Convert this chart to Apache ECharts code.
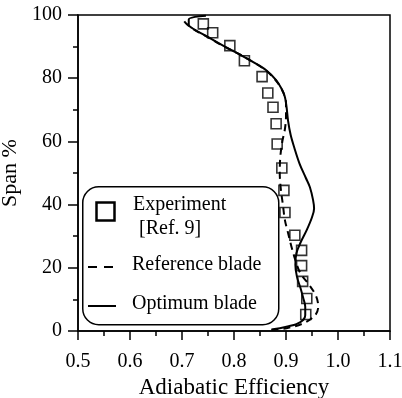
<!DOCTYPE html>
<html>
<head>
<meta charset="utf-8">
<script src="https://cdn.jsdelivr.net/npm/echarts@6/dist/echarts.min.js"></script>
<style>
html,body{margin:0;padding:0;background:#fff;}
#c{width:402px;height:398px;}
</style>
</head>
<body>
<div id="c"></div>
<script>
// Experiment [Ref. 9]
var effExp  = [0.741,0.759,0.792,0.820,0.854,0.865,0.875,0.881,0.883,0.892,0.896,0.898,0.917,0.930,0.930,0.932,0.940,0.938];
var spanExp = [97.2,94.4,90.3,85.5,80.5,75.3,70.8,65.6,59.2,51.6,44.5,37.5,30.3,25.5,20.7,15.7,10.3,5.2];

// Reference blade (dashed)
var effRef  = [0.872,0.901,0.933,0.956,0.962,0.958,0.945,0.927,0.917,0.910,0.904,0.898,0.894,0.890,0.888,0.889,0.893,0.898,0.900,0.900,0.897,0.890,0.879,0.860,0.836,0.810,0.778,0.745,0.722,0.708,0.700];
var spanRef = [0.3,0.9,2.4,5.0,7.7,11.0,14.5,18.5,23.0,27.0,31.0,35.0,40.0,45.0,50.0,55.0,60.0,64.0,68.0,72.0,74.5,77.0,79.6,82.6,85.2,87.6,90.3,93.4,95.5,97.3,99.0];

// Optimum blade (solid)
var effOpt  = [0.872,0.888,0.905,0.920,0.933,0.937,0.937,0.933,0.928,0.921,0.918,0.920,0.928,0.940,0.950,0.954,0.952,0.946,0.938,0.926,0.916,0.909,0.904,0.901,0.898,0.892,0.881,0.862,0.837,0.811,0.779,0.746,0.725,0.713,0.713,0.725,0.746];
var spanOpt = [0.5,0.9,1.5,2.2,3.5,5.0,7.7,10.5,13.5,17.2,21.0,24.6,28.0,32.0,36.0,38.8,41.5,45.5,48.5,53.0,58.0,62.0,66.5,71.0,74.0,76.5,79.4,82.5,85.1,87.5,90.3,93.4,95.3,97.0,98.6,99.4,99.8];

var legendLabels = ['Experiment', '[Ref. 9]', 'Reference blade', 'Optimum blade'];
var xTitle = 'Adiabatic Efficiency';
var yTitle = 'Span %';

function pairs(a, b) { return a.map(function (v, i) { return [v, b[i]]; }); }

var FONT = 'Liberation Serif';
var LFONT = '20px "Liberation Serif"';
var chart = echarts.init(document.getElementById('c'), null, {renderer: 'canvas'});
chart.setOption({
  animation: false,
  backgroundColor: '#fff',
  grid: {left: 78, right: 12, top: 15, bottom: 67, containLabel: false, outerBoundsMode: 'none',
    show: true, borderColor: '#000', borderWidth: 1.5, backgroundColor: 'transparent'},
  xAxis: {
    type: 'value', min: 0.5, max: 1.1, interval: 0.1,
    name: xTitle, nameLocation: 'middle', nameGap: 42,
    nameTextStyle: {fontFamily: FONT, fontSize: 23, color: '#000'},
    axisLine: {show: true, lineStyle: {color: '#000', width: 1.5}},
    axisTick: {show: true, inside: false, length: 9, lineStyle: {color: '#000', width: 1.5}},
    minorTick: {show: true, splitNumber: 2, length: 5, lineStyle: {color: '#000', width: 1.5}},
    axisLabel: {fontFamily: FONT, fontSize: 20, color: '#000', margin: 21,
      formatter: function (v) { return v.toFixed(1); }},
    splitLine: {show: false}
  },
  yAxis: {
    type: 'value', min: 0, max: 100, interval: 20,
    name: yTitle, nameLocation: 'middle', nameGap: 42, nameRotate: 90,
    nameTextStyle: {fontFamily: FONT, fontSize: 22, color: '#000'},
    axisLine: {show: true, lineStyle: {color: '#000', width: 1.5}},
    axisTick: {show: true, inside: false, length: 10, lineStyle: {color: '#000', width: 1.5}},
    minorTick: {show: true, splitNumber: 2, length: 5, lineStyle: {color: '#000', width: 1.5}},
    axisLabel: {fontFamily: FONT, fontSize: 20, color: '#000', margin: 16},
    splitLine: {show: false}
  },
  series: [
    {
      name: 'Optimum blade', type: 'line', data: pairs(effOpt, spanOpt),
      smooth: 0.35, symbol: 'none', lineStyle: {color: '#000', width: 2}, z: 3
    },
    {
      name: 'Reference blade', type: 'line', data: pairs(effRef, spanRef),
      smooth: 0.35, symbol: 'none', lineStyle: {color: '#000', width: 2, type: [7, 5]}, z: 2
    },
    {
      name: 'Experiment', type: 'scatter', data: pairs(effExp, spanExp),
      symbol: 'rect', symbolSize: 10,
      itemStyle: {color: 'rgba(0,0,0,0)', borderColor: '#000', borderWidth: 1.6}, z: 4
    }
  ],
  graphic: [
    {type: 'rect', left: 82, top: 186, z: 10,
      shape: {width: 196, height: 138, r: 16},
      style: {fill: '#fff', stroke: '#000', lineWidth: 1.5}},
    {type: 'rect', left: 94, top: 200, z: 11,
      shape: {width: 18, height: 18},
      style: {fill: 'none', stroke: '#000', lineWidth: 2.5}},
    {type: 'text', left: 133, top: 195, z: 11,
      style: {text: legendLabels[0], font: LFONT, fill: '#000'}},
    {type: 'text', left: 139, top: 219, z: 11,
      style: {text: legendLabels[1], font: LFONT, fill: '#000'}},
    {type: 'line', z: 11, shape: {x1: 88, y1: 267, x2: 116, y2: 267},
      style: {stroke: '#000', lineWidth: 2, lineDash: [9, 7]}},
    {type: 'text', left: 132, top: 255, z: 11,
      style: {text: legendLabels[2], font: LFONT, fill: '#000'}},
    {type: 'line', z: 11, shape: {x1: 88, y1: 306, x2: 116, y2: 306},
      style: {stroke: '#000', lineWidth: 2}},
    {type: 'text', left: 132, top: 294, z: 11,
      style: {text: legendLabels[3], font: LFONT, fill: '#000'}}
  ]
});
</script>
</body>
</html>
